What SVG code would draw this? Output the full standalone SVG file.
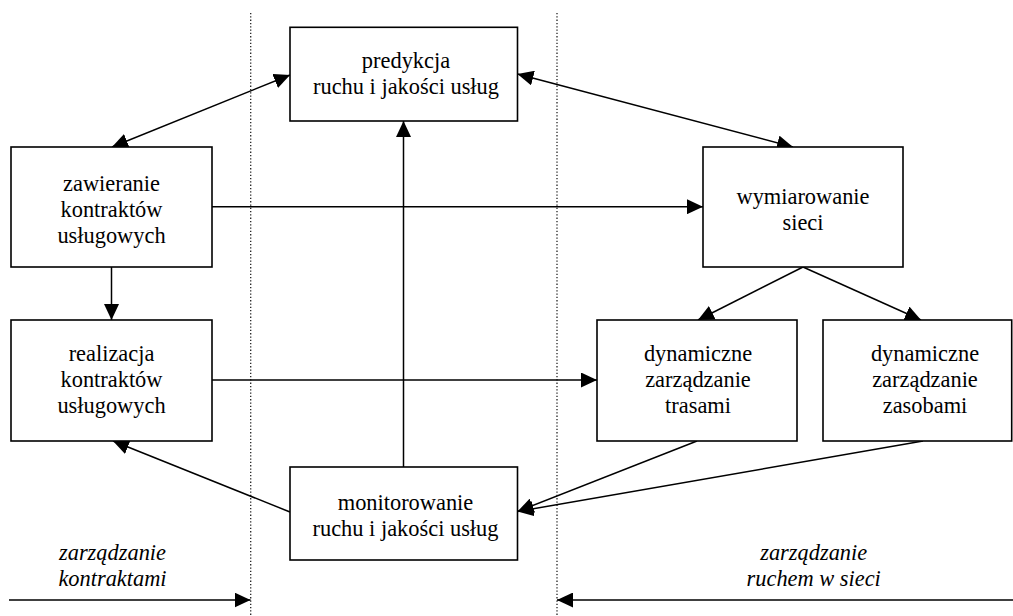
<svg xmlns="http://www.w3.org/2000/svg" width="1013" height="616" viewBox="0 0 1013 616">
  <style>
    .box { fill: #fff; stroke: #000; stroke-width: 1.6; }
    .lbl { font-family: 'Liberation Serif', 'Times New Roman', Times, 'DejaVu Serif', serif; font-size: 22.4px; fill: #000; text-anchor: middle; }
    .it { font-style: italic; }
    .con { stroke: #000; stroke-width: 1.5; fill: none; }
    .arr { marker-end: url(#head); }
    .bi { marker-start: url(#head); marker-end: url(#head); }
    .sep { stroke: #222; stroke-width: 1.3; stroke-dasharray: 1.3 2; fill: none; }
  </style>
  <defs>
    <marker id="head" viewBox="0 0 16 15" refX="16" refY="7.5" markerWidth="16" markerHeight="15" markerUnits="userSpaceOnUse" orient="auto-start-reverse">
      <path d="M0,0 L16,7.5 L0,15 z" fill="#000"/>
    </marker>
  </defs>
  <rect width="1013" height="616" fill="#fff"/>

  <!-- dotted separators between management areas -->
  <g id="separators">
    <line class="sep" x1="250.7" y1="13" x2="250.7" y2="616"/>
    <line class="sep" x1="557" y1="13" x2="557" y2="616"/>
  </g>

  <g id="connectors">
    <line class="con bi" x1="290" y1="75" x2="112" y2="147"/>
    <line class="con bi" x1="517.5" y1="74" x2="793" y2="147"/>
    <line class="con arr" x1="212" y1="206.7" x2="703" y2="206.7"/>
    <line class="con arr" x1="111.5" y1="267" x2="111.5" y2="320"/>
    <line class="con arr" x1="212" y1="380" x2="597" y2="380"/>
    <line class="con arr" x1="403.5" y1="467" x2="403.5" y2="121"/>
    <line class="con arr" x1="803" y1="267" x2="698" y2="320"/>
    <line class="con arr" x1="803" y1="267" x2="921" y2="320"/>
    <line class="con arr" x1="697" y1="441" x2="517.5" y2="511.5"/>
    <line class="con arr" x1="923" y1="441" x2="517.5" y2="511.5"/>
    <line class="con arr" x1="290" y1="512" x2="113" y2="441"/>
    <line class="con arr" x1="9" y1="600" x2="250.5" y2="600"/>
    <line class="con arr" x1="1013" y1="600" x2="557" y2="600"/>
  </g>

  <g id="predykcja">
    <rect class="box" x="290" y="27.3" width="227.5" height="93.7"/>
    <text class="lbl"><tspan x="406" y="68">predykcja</tspan><tspan x="406" y="94">ruchu i jakości usług</tspan></text>
  </g>

  <g id="zawieranie">
    <rect class="box" x="11" y="147" width="201" height="120"/>
    <text class="lbl"><tspan x="111.5" y="190.7">zawieranie</tspan><tspan x="111.5" y="217">kontraktów</tspan><tspan x="111.5" y="243">usługowych</tspan></text>
  </g>

  <g id="wymiarowanie">
    <rect class="box" x="703" y="147" width="200" height="120"/>
    <text class="lbl"><tspan x="803" y="204">wymiarowanie</tspan><tspan x="803" y="230">sieci</tspan></text>
  </g>

  <g id="realizacja">
    <rect class="box" x="11" y="320" width="201" height="121"/>
    <text class="lbl"><tspan x="111.5" y="360.7">realizacja</tspan><tspan x="111.5" y="386.7">kontraktów</tspan><tspan x="111.5" y="413">usługowych</tspan></text>
  </g>

  <g id="trasy">
    <rect class="box" x="597" y="320" width="200" height="121"/>
    <text class="lbl"><tspan x="698" y="361">dynamiczne</tspan><tspan x="698" y="387">zarządzanie</tspan><tspan x="698" y="413.3">trasami</tspan></text>
  </g>

  <g id="zasoby">
    <rect class="box" x="823" y="320" width="188.7" height="121"/>
    <text class="lbl"><tspan x="925" y="361">dynamiczne</tspan><tspan x="925" y="387">zarządzanie</tspan><tspan x="925" y="413.3">zasobami</tspan></text>
  </g>

  <g id="monitorowanie">
    <rect class="box" x="290" y="467" width="227.5" height="93"/>
    <text class="lbl"><tspan x="405.5" y="510">monitorowanie</tspan><tspan x="405.5" y="536">ruchu i jakości usług</tspan></text>
  </g>

  <g id="obszar-kontrakty">
    <text class="lbl it"><tspan x="112.5" y="559.5">zarządzanie</tspan><tspan x="112.5" y="586">kontraktami</tspan></text>
  </g>

  <g id="obszar-ruch">
    <text class="lbl it"><tspan x="813.7" y="559.5">zarządzanie</tspan><tspan x="813.7" y="586">ruchem w sieci</tspan></text>
  </g>
</svg>
